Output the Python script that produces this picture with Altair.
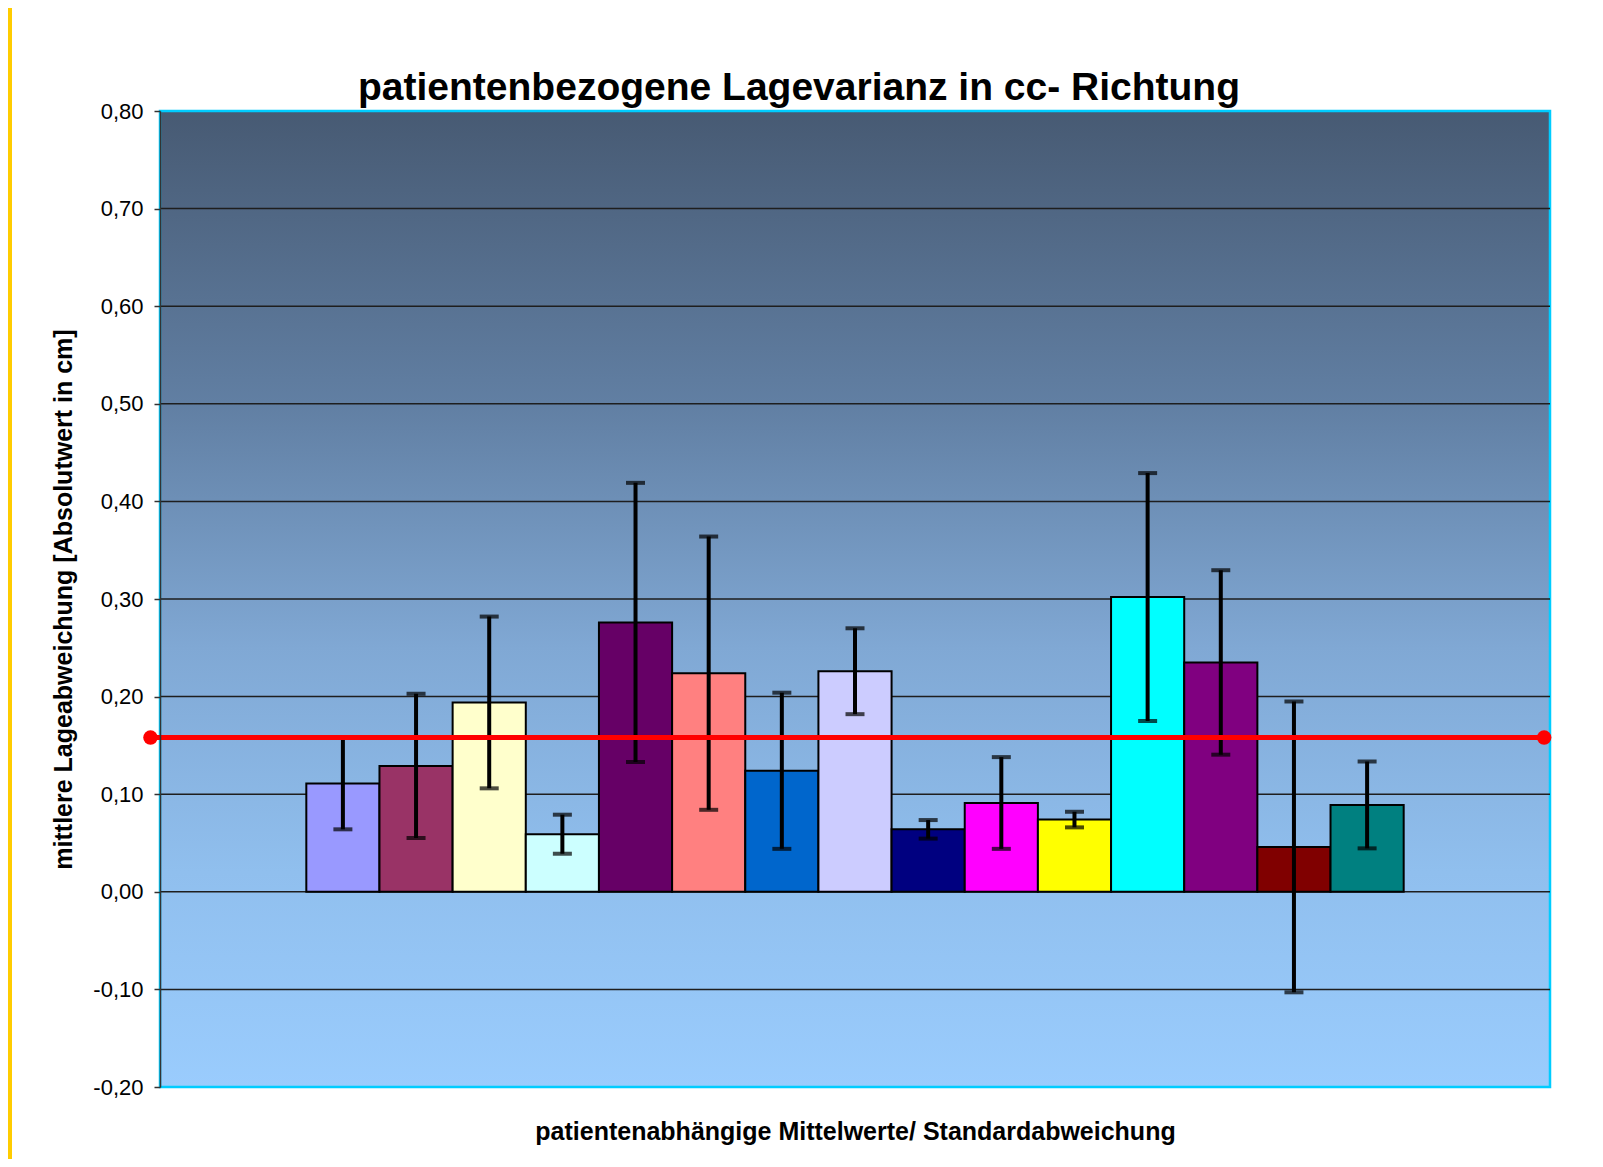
import altair as alt
import pandas as pd

# ---- data ----
patients = list(range(1, 16))
means = [0.111, 0.129, 0.194, 0.059, 0.276, 0.224, 0.124, 0.226,
         0.064, 0.091, 0.074, 0.302, 0.235, 0.046, 0.089]
sds = [0.047, 0.074, 0.088, 0.020, 0.143, 0.140, 0.080, 0.044,
       0.0095, 0.047, 0.008, 0.127, 0.0945, 0.149, 0.0445]
bar_colors = ["#9999ff", "#993366", "#ffffcc", "#ccffff", "#660066",
              "#ff8080", "#0066cc", "#ccccff", "#000080", "#ff00ff",
              "#ffff00", "#00ffff", "#800080", "#800000", "#008080"]
mean_line_x = [-1.63, 17.42]
mean_line_y = [0.158, 0.158]
y_ticks = [-0.2, -0.1, 0.0, 0.1, 0.2, 0.3, 0.4, 0.5, 0.6, 0.7, 0.8]
grid_vals = [-0.1, 0.0, 0.1, 0.2, 0.3, 0.4, 0.5, 0.6, 0.7]

title_text = "patientenbezogene Lagevarianz in cc- Richtung"
y_title = "mittlere Lageabweichung [Absolutwert in cm]"
x_title = "patientenabhängige Mittelwerte/ Standardabweichung"

W, H = 1390, 976
FONT = "Liberation Sans"

df = pd.DataFrame({"slot": patients, "mean": means, "sd": sds, "color": bar_colors})
df["x0"] = df["slot"] - 0.5
df["x1"] = df["slot"] + 0.5
df["lo"] = df["mean"] - df["sd"]
df["hi"] = df["mean"] + df["sd"]

line_df = pd.DataFrame({"lx": mean_line_x, "ly": mean_line_y})
grid_df = pd.DataFrame({"g": grid_vals})

xscale = alt.Scale(domain=[-1.5, 17.5], nice=False, zero=False)
yscale = alt.Scale(domain=[-0.2, 0.8], nice=False, zero=False)

xaxis = alt.Axis(title=x_title, labels=False, ticks=False, domain=False, grid=False,
                 titleFont=FONT, titleFontSize=25, titleFontWeight="bold",
                 titleColor="#000000", titleX=W / 2, titleY=52,
                 titleBaseline="alphabetic", titleAlign="center")
yaxis = alt.Axis(title=y_title, values=y_ticks, grid=False, zindex=1,
                 labelExpr="(datum.value < 0 ? '-' : '') + replace(format(abs(datum.value), '.2f'), '.', ',')",
                 labelFont=FONT, labelFontSize=22, labelColor="#000000", labelPadding=11,
                 tickSize=6, tickColor="#333333", tickWidth=1.5,
                 domainColor="#333333", domainWidth=1.5,
                 titleFont=FONT, titleFontSize=25, titleFontWeight="bold", titleColor="#000000",
                 titleAngle=270, titleX=-97, titleY=H / 2, titleAlign="center",
                 titleBaseline="middle")

def X(field):
    return alt.X(field, type="quantitative", scale=xscale, axis=xaxis)

def Y(field):
    return alt.Y(field, type="quantitative", scale=yscale, axis=yaxis)

one = alt.Data(values=[{"k": 1}])

background = alt.Chart(one).mark_rect(
    fill=alt.Gradient(
        gradient="linear",
        stops=[alt.GradientStop(color="#475a73", offset=0),
               alt.GradientStop(color="#617fa3", offset=0.3),
               alt.GradientStop(color="#80a8d4", offset=0.55),
               alt.GradientStop(color="#90bfee", offset=0.78),
               alt.GradientStop(color="#9accfd", offset=1)],
        x1=0, x2=0, y1=0, y2=1),
    stroke="#00ccff", strokeWidth=2.5,
).encode(x=alt.value(0), x2=alt.value("width"), y=alt.value(0), y2=alt.value("height"))

yellow = alt.Chart(one).mark_rect(fill="#ffcc00").encode(
    x=alt.value(-152), x2=alt.value(-148), y=alt.value(-103), y2=alt.value(H + 72))

title = alt.Chart(one).mark_text(
    text=title_text, font=FONT, fontSize=39, fontWeight="bold", color="#000000",
    align="center", baseline="alphabetic",
).encode(x=alt.value(W / 2 - 56), y=alt.value(-11))

grid = alt.Chart(grid_df).mark_rule(color="#1e1e1e", strokeWidth=1.5).encode(
    y=Y("g"), x=alt.value(0), x2=alt.value("width"))

bars = alt.Chart(df).mark_bar(stroke="#000000", strokeWidth=2).encode(
    x=X("x0"), x2="x1", y=Y("mean"), y2=alt.datum(0),
    fill=alt.Fill("color:N", scale=None))

err = alt.Chart(df).mark_rule(color="#000000", strokeWidth=4).encode(
    x=X("slot"), y=Y("lo"), y2="hi")

cap_lo = alt.Chart(df).mark_tick(color="#000000", orient="horizontal", size=19,
                                 thickness=4).encode(x=X("slot"), y=Y("lo"))
cap_hi = alt.Chart(df).mark_tick(color="#000000", orient="horizontal", size=19,
                                 thickness=4).encode(x=X("slot"), y=Y("hi"))

red_line = alt.Chart(line_df).mark_line(color="#ff0000", strokeWidth=5).encode(
    x=X("lx"), y=Y("ly"))
red_pts = alt.Chart(line_df).mark_circle(color="#ff0000", opacity=1, size=210).encode(
    x=X("lx"), y=Y("ly"))

chart = alt.layer(
    yellow, title, background, grid, bars, err, cap_lo, cap_hi, red_line, red_pts
).properties(
    width=W, height=H,
    autosize=alt.AutoSizeParams(type="none"),
    padding={"left": 152, "top": 103, "right": 45, "bottom": 72},
    background="#ffffff",
).configure_view(stroke=None)

chart.save("out.html", embed_options={"renderer": "svg", "actions": False})
